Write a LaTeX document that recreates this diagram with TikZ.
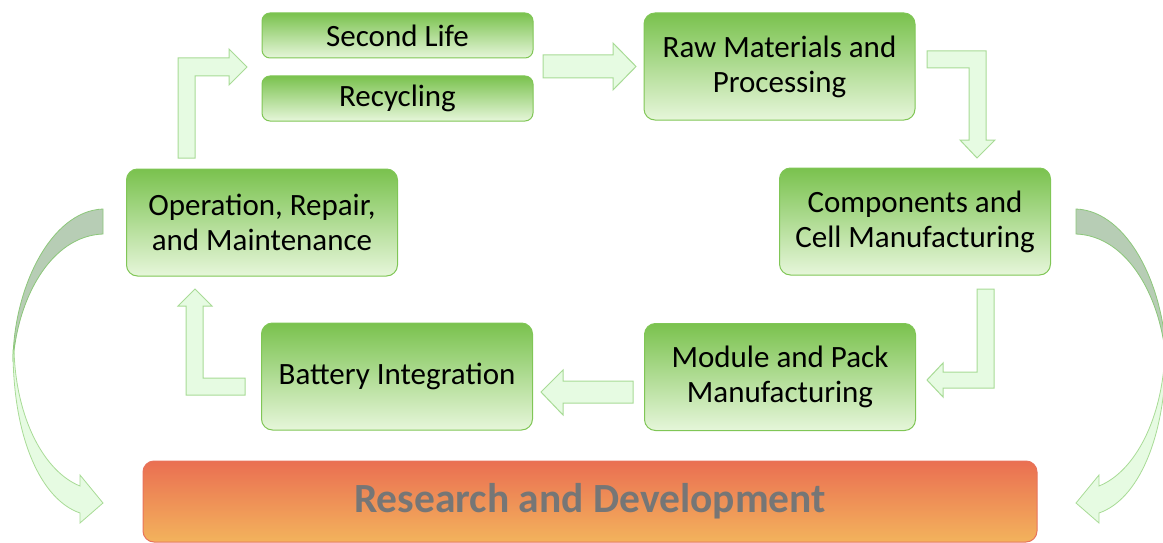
\documentclass[tikz,border=0pt]{standalone}
\usepackage{fontspec}
\setmainfont{Carlito}
\usepackage{tikz}
\definecolor{greentop}{HTML}{7AC24E}
\definecolor{greenmid}{HTML}{A2D385}
\definecolor{greenbot}{HTML}{E6F6DA}
\definecolor{boxline}{HTML}{80C656}
\definecolor{rdtop}{HTML}{EA6F52}
\definecolor{rdmid}{HTML}{EA8A3E}
\definecolor{rdbot}{HTML}{F3B35C}
\definecolor{rdline}{HTML}{E8735C}
\definecolor{rdtext}{HTML}{767676}
\definecolor{arrfill}{HTML}{E6FBE2}
\definecolor{arrline}{HTML}{A8DB96}
\definecolor{backfill}{HTML}{B7CDB5}
\definecolor{backline}{HTML}{8CC77A}

\begin{document}
\begin{tikzpicture}[x=1pt,y=-1pt]
    \useasboundingbox (0,0) rectangle (1163,543);

    \tikzstyle{stage}=[draw=boxline,line width=1pt,rounded corners=11pt,top color=greentop,middle color=greenmid,bottom color=greenbot,minimum width=271pt,minimum height=107pt,align=center,font=\fontsize{31}{35}\selectfont]
    \tikzstyle{thin}=[stage,minimum height=45pt,rounded corners=8pt]
    \tikzstyle{rnd}=[draw=rdline,line width=1pt,rounded corners=11pt,top color=rdtop,middle color=rdmid,bottom color=rdbot,minimum width=894pt,minimum height=81pt,text=rdtext,font=\bfseries\fontsize{41.5}{44}\selectfont]
    \tikzstyle{blk}=[fill=arrfill,draw=arrline,line width=1pt,line join=miter]
    \tikzstyle{back}=[fill=backfill,draw=backline,line width=0.8pt]
    \tikzstyle{front}=[fill=arrfill,draw=arrline,line width=0.8pt]

    % cycle stages
    \node[thin]  (sl)   at (397.5,35.5) {Second Life};
    \node[thin]  (rec)  at (397.5,98.5) {Recycling};
    \node[stage] (raw)  at (779.5,66.5) {Raw Materials and\\Processing};
    \node[stage] (comp) at (915,221.5)  {Components and\\Cell Manufacturing};
    \node[stage] (modp) at (780,377)    {Module and Pack\\Manufacturing};
    \node[stage] (bat)  at (397,376.5)  {Battery Integration};
    \node[stage] (op)   at (262,222.5)  {Operation, Repair,\\and Maintenance};

    \node[rnd] (rd) at (590,501.5) {Research and Development};

    % block arrows
    \coordinate (a1) at (178,158);
    \coordinate (a2) at (543,55);
    \coordinate (a3) at (927,51);
    \coordinate (a4) at (977,289);
    \coordinate (a5) at (633,381);
    \coordinate (a6) at (245,378);

    \draw[blk] (a1) -- ++(0,-100) -- ++(51,0) -- ++(0,-9) -- ++(18,18) -- ++(-18,18) -- ++(0,-9) -- ++(-34,0) -- ++(0,82) -- cycle;
    \draw[blk] (a2) -- ++(70,0) -- ++(0,-12) -- ++(23,23.5) -- ++(-23,23.5) -- ++(0,-12) -- ++(-70,0) -- cycle;
    \draw[blk] (a3) -- ++(59,0) -- ++(0,89) -- ++(9,0) -- ++(-18,18) -- ++(-17,-18) -- ++(9,0) -- ++(0,-72) -- ++(-42,0) -- cycle;
    \draw[blk] (a4) -- ++(17,0) -- ++(0,99) -- ++(-51,0) -- ++(0,9) -- ++(-16,-17) -- ++(16,-17) -- ++(0,9) -- ++(34,0) -- cycle;
    \draw[blk] (a5) -- ++(-70,0) -- ++(0,-11) -- ++(-22,22) -- ++(22,23) -- ++(0,-12) -- ++(70,0) -- cycle;
    \draw[blk] (a6) -- ++(-42,0) -- ++(0,-72) -- ++(9,0) -- ++(-17,-17) -- ++(-17,17) -- ++(8,0) -- ++(0,89) -- ++(59,0) -- cycle;

    % curved arrows to research
    \coordinate (cl) at (103,209);
    \coordinate (cr) at (1076,209);

    \draw[back] (cl) .. controls (50,211) and (13,290) .. (13,362) .. controls (17,300) and (50,236) .. (103,234) -- cycle;
    \draw[front] (13,350) .. controls (13,440) and (42,500) .. (80,513) -- (80,523) -- (103,503) -- (80,475) -- (80,486) .. controls (45,472) and (16,420) .. (14,350) -- cycle;

    \draw[back] (cr) .. controls (1129,211) and (1166,290) .. (1166,362) .. controls (1162,300) and (1129,236) .. (1076,234) -- cycle;
    \draw[front] (1166,350) .. controls (1166,440) and (1137,500) .. (1099,513) -- (1099,523) -- (1076,503) -- (1099,475) -- (1099,486) .. controls (1134,472) and (1163,420) .. (1165,350) -- cycle;
\end{tikzpicture}
\end{document}
